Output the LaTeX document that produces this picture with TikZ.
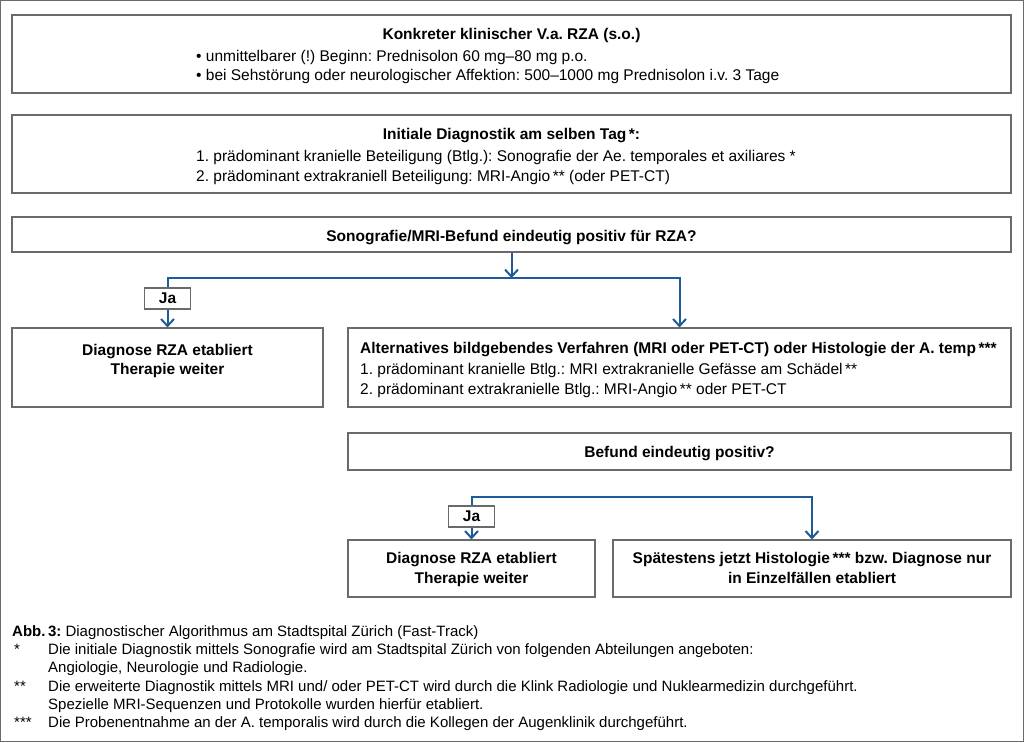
\documentclass[tikz,border=0pt]{standalone}
\usepackage{fontspec}
\setmainfont{Liberation Sans}
\usetikzlibrary{arrows.meta}
\frenchspacing

\definecolor{flowblue}{HTML}{1F5A99}
\definecolor{boxgray}{HTML}{6A6A6A}

\begin{document}
\begin{tikzpicture}[x=1pt, y=-1pt,
        font=\fontsize{15.5}{19.5}\selectfont,
        box/.style={draw=boxgray, line width=1.1pt, inner sep=0pt},
        jabox/.style={box, minimum width=46pt, minimum height=21pt,
            font=\fontsize{15.5}{19.5}\selectfont\bfseries},
        flow/.style={draw=flowblue, line width=2pt},
        flowarrow/.style={-{Straight Barb[length=7pt, width=13pt]}},
        txt/.style={anchor=base west, inner sep=0pt},
        fussnote/.style={txt, font=\fontsize{15}{18.5}\selectfont},
        titel/.style={anchor=base, inner sep=0pt,
            font=\fontsize{15.5}{19.5}\selectfont\bfseries}]

        \useasboundingbox (0,0) rectangle (1024,742);
        \draw[boxgray, line width=1.1pt] (0.6,0.6) rectangle (1023.4,741.4);

        % ---------------------------------------------------
        % 1. Boxes
        % ---------------------------------------------------

        \node[box, minimum width=999pt, minimum height=78pt] (verdacht) at (511.5,54) {};
        \node[box, minimum width=999pt, minimum height=78pt] (initial) at (511.5,154) {};
        \node[box, minimum width=999pt, minimum height=35pt] (befund1) at (511.5,234.5) {};
        \node[box, minimum width=311pt, minimum height=79pt] (rza1) at (167.5,367.5) {};
        \node[box, minimum width=663pt, minimum height=79pt] (alternativ) at (679.5,367.5) {};
        \node[box, minimum width=663pt, minimum height=37pt] (befund2) at (679.5,451.5) {};
        \node[box, minimum width=247pt, minimum height=57pt] (rza2) at (471.5,568.5) {};
        \node[box, minimum width=398pt, minimum height=57pt] (histo) at (812,568.5) {};

        % Ja labels
        \node[jabox] (ja1) at (167.5,298.5) {Ja};
        \node[jabox] (ja2) at (471.5,516.5) {Ja};

        % ---------------------------------------------------
        % 2. Texts in the boxes
        % ---------------------------------------------------

        % Verdacht
        \node[titel] at (511.5,39) {Konkreter klinischer V.a. RZA (s.o.)};
        \node[txt] at (196,61) {\textbullet\ unmittelbarer (!) Beginn: Prednisolon 60 mg--80 mg p.o.};
        \node[txt] at (196,80) {\textbullet\ bei Sehstörung oder neurologischer Affektion: 500--1000 mg Prednisolon i.v. 3 Tage};

        % Initiale Diagnostik
        \node[titel] at (511.5,139) {Initiale Diagnostik am selben Tag\,*:};
        \node[txt] at (196,161) {1. prädominant kranielle Beteiligung (Btlg.): Sonografie der Ae. temporales et axiliares *};
        \node[txt] at (196,181) {2. prädominant extrakraniell Beteiligung: MRI-Angio\,** (oder PET-CT)};

        % Befund 1
        \node[titel] at (511.5,241) {Sonografie/MRI-Befund eindeutig positiv für RZA?};

        % Diagnose (left)
        \node[titel] at (167.5,355) {Diagnose RZA etabliert};
        \node[titel] at (167.5,374) {Therapie weiter};

        % Alternatives Verfahren
        \node[titel, anchor=base west] at (360,353) {Alternatives bildgebendes Verfahren (MRI oder PET-CT) oder Histologie der A. temp\,***};
        \node[txt] at (360,374) {1. prädominant kranielle Btlg.: MRI extrakranielle Gefässe am Schädel\,**};
        \node[txt] at (360,394) {2. prädominant extrakranielle Btlg.: MRI-Angio\,** oder PET-CT};

        % Befund 2
        \node[titel] at (679.5,457) {Befund eindeutig positiv?};

        % Diagnose (bottom)
        \node[titel] at (471.5,563) {Diagnose RZA etabliert};
        \node[titel] at (471.5,583) {Therapie weiter};

        % Histologie
        \node[titel] at (812,563) {Spätestens jetzt Histologie\,*** bzw. Diagnose nur};
        \node[titel] at (812,583) {in Einzelfällen etabliert};

        % ---------------------------------------------------
        % 3. Connectors (blue)
        % ---------------------------------------------------

        \coordinate (gabel1) at (511.5,278);
        \draw[flow, flowarrow] (befund1.south) -- (gabel1);
        \draw[flow, flowarrow] (ja1.north) |- (gabel1) -| (alternativ.north);
        \draw[flow, flowarrow] (ja1.south) -- (rza1.north);

        \coordinate (gabel2) at (679.5,497);
        \draw[flow, flowarrow] (ja2.north) |- (gabel2) -| (histo.north);
        \draw[flow, flowarrow] (ja2.south) -- (rza2.north);

        % ---------------------------------------------------
        % 4. Caption and footnotes
        % ---------------------------------------------------

        \node[fussnote] at (12,636) {\textbf{Abb.\,3:} Diagnostischer Algorithmus am Stadtspital Zürich (Fast-Track)};
        \node[fussnote] at (14,654) {*};
        \node[fussnote] at (48,654) {Die initiale Diagnostik mittels Sonografie wird am Stadtspital Zürich von folgenden Abteilungen angeboten:};
        \node[fussnote] at (48,672) {Angiologie, Neurologie und Radiologie.};
        \node[fussnote] at (14,691) {**};
        \node[fussnote] at (48,691) {Die erweiterte Diagnostik mittels MRI und/ oder PET-CT wird durch die Klink Radiologie und Nuklearmedizin durchgeführt.};
        \node[fussnote] at (48,709) {Spezielle MRI-Sequenzen und Protokolle wurden hierfür etabliert.};
        \node[fussnote] at (14,727) {***};
        \node[fussnote] at (48,727) {Die Probenentnahme an der A. temporalis wird durch die Kollegen der Augenklinik durchgeführt.};

    \end{tikzpicture}
\end{document}
